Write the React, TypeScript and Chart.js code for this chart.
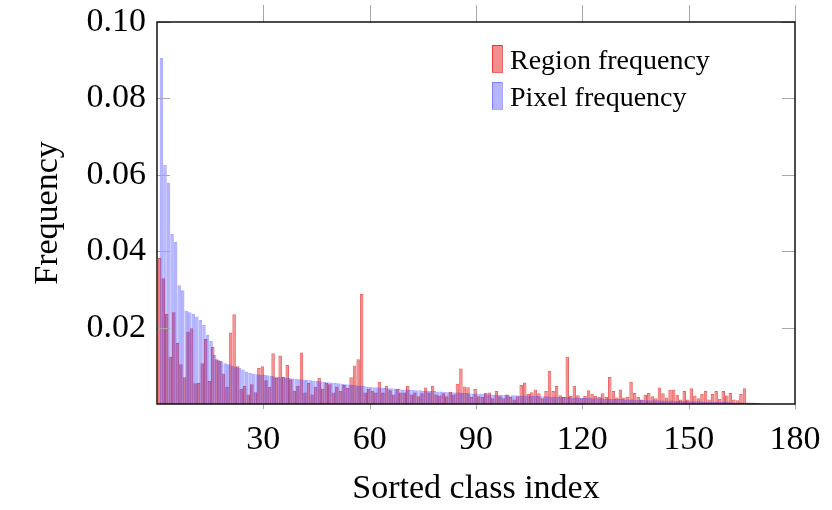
import React, { useEffect, useRef } from "react";
import { Chart, registerables } from "chart.js";

Chart.register(...registerables);

const seriesNames = ["Region frequency", "Pixel frequency"];
const xTitle = "Sorted class index";
const yTitle = "Frequency";
const xTickValues = [30, 60, 90, 120, 150, 180];
const yTickValues = [0.02, 0.04, 0.06, 0.08, 0.1];

const regionFrequency = [
  0.0382, 0.0329, 0.0236, 0.0124, 0.0240, 0.0160, 0.0104, 0.0070, 0.0189, 0.0198,
  0.0054, 0.0055, 0.0107, 0.0170, 0.0060, 0.0149, 0.0117, 0.0113, 0.0080, 0.0045,
  0.0187, 0.0235, 0.0099, 0.0040, 0.0048, 0.0025, 0.0052, 0.0031, 0.0094, 0.0099,
  0.0062, 0.0045, 0.0133, 0.0068, 0.0127, 0.0071, 0.0102, 0.0065, 0.0035, 0.0048,
  0.0135, 0.0030, 0.0055, 0.0025, 0.0045, 0.0069, 0.0040, 0.0055, 0.0052, 0.0030,
  0.0045, 0.0035, 0.0050, 0.0042, 0.0070, 0.0101, 0.0117, 0.0288, 0.0030, 0.0040,
  0.0035, 0.0030, 0.0058, 0.0030, 0.0048, 0.0036, 0.0025, 0.0040, 0.0030, 0.0030,
  0.0048, 0.0025, 0.0030, 0.0020, 0.0028, 0.0043, 0.0030, 0.0048, 0.0025, 0.0022,
  0.0028, 0.0020, 0.0032, 0.0025, 0.0053, 0.0093, 0.0046, 0.0044, 0.0018, 0.0039,
  0.0020, 0.0018, 0.0029, 0.0030, 0.0015, 0.0034, 0.0020, 0.0015, 0.0025, 0.0018,
  0.0012, 0.0020, 0.0050, 0.0056, 0.0026, 0.0031, 0.0038, 0.0028, 0.0015, 0.0034,
  0.0087, 0.0034, 0.0047, 0.0023, 0.0018, 0.0124, 0.0021, 0.0048, 0.0023, 0.0015,
  0.0021, 0.0036, 0.0027, 0.0021, 0.0019, 0.0028, 0.0018, 0.0071, 0.0034, 0.0017,
  0.0038, 0.0017, 0.0019, 0.0058, 0.0029, 0.0018, 0.0012, 0.0024, 0.0029, 0.0020,
  0.0015, 0.0043, 0.0028, 0.0017, 0.0037, 0.0037, 0.0024, 0.0012, 0.0034, 0.0012,
  0.0041, 0.0022, 0.0015, 0.0027, 0.0034, 0.0012, 0.0026, 0.0034, 0.0014, 0.0034,
  0.0022, 0.0029, 0.0012, 0.0010, 0.0026, 0.0041, 0.0004, 0.0003, 0.0003, 0.0002,
  0, 0,
];

const pixelFrequency = [
  0.0906, 0.0626, 0.0580, 0.0445, 0.0425, 0.0311, 0.0298, 0.0244, 0.0240, 0.0236,
  0.0229, 0.0220, 0.0207, 0.0182, 0.0165, 0.0128, 0.0116, 0.0112, 0.0107, 0.0104,
  0.0100, 0.0097, 0.0095, 0.0090, 0.0085, 0.0082, 0.0080, 0.0078, 0.0077, 0.0076,
  0.0075, 0.0074, 0.0072, 0.0071, 0.0070, 0.0069, 0.0068, 0.0067, 0.0066, 0.0065,
  0.0064, 0.0063, 0.0062, 0.0061, 0.0060, 0.0059, 0.0058, 0.0057, 0.0056, 0.0055,
  0.0054, 0.0053, 0.0052, 0.0051, 0.0050, 0.0049, 0.0048, 0.0047, 0.0046, 0.0045,
  0.0044, 0.0044, 0.0043, 0.0042, 0.0041, 0.0041, 0.0040, 0.0039, 0.0038, 0.0038,
  0.0037, 0.0037, 0.0036, 0.0036, 0.0035, 0.0035, 0.0034, 0.0034, 0.0033, 0.0033,
  0.0032, 0.0031, 0.0031, 0.0030, 0.0030, 0.0029, 0.0029, 0.0028, 0.0027, 0.0027,
  0.0026, 0.0026, 0.0025, 0.0025, 0.0025, 0.0024, 0.0024, 0.0024, 0.0023, 0.0023,
  0.0023, 0.0022, 0.0022, 0.0022, 0.0021, 0.0021, 0.0021, 0.0020, 0.0020, 0.0020,
  0.0019, 0.0019, 0.0019, 0.0018, 0.0018, 0.0018, 0.0017, 0.0017, 0.0017, 0.0016,
  0.0016, 0.0016, 0.0015, 0.0015, 0.0015, 0.0014, 0.0014, 0.0014, 0.0013, 0.0013,
  0.0013, 0.0012, 0.0012, 0.0012, 0.0011, 0.0011, 0.0011, 0.0010, 0.0010, 0.0010,
  0.0010, 0.0009, 0.0009, 0.0009, 0.0009, 0.0008, 0.0008, 0.0008, 0.0008, 0.0007,
  0.0007, 0.0007, 0.0007, 0.0006, 0.0006, 0.0006, 0.0006, 0.0005, 0.0005, 0.0005,
  0.0005, 0.0004, 0.0004, 0.0004, 0.0004, 0.0003, 0.0003, 0.0003, 0.0002, 0.0002,
  0.0001, 0.0001,
];

const classIndex = pixelFrequency.map((_, i) => i + 1);

const FONT = "'Liberation Serif', 'Times New Roman', serif";
const RED_FILL = "rgba(232,30,30,0.5)";
const RED_LINE = "rgba(220,0,0,0.6)";
const BLUE_FILL = "rgba(40,40,255,0.34)";
const BLUE_LINE = "rgba(40,40,255,0.4)";

// draw datasets in index order so that the pixel series lies on top of the region series
const drawOrderPlugin = {
  id: "drawOrder",
  beforeDatasetsDraw(chart: any) {
    const { ctx, chartArea: a } = chart;
    ctx.save();
    ctx.beginPath();
    ctx.rect(a.left, a.top, a.right - a.left, a.bottom - a.top);
    ctx.clip();
    chart.data.datasets.forEach((_: any, i: number) => {
      const meta = chart.getDatasetMeta(i);
      if (meta && meta.controller && !meta.hidden) meta.controller.draw();
    });
    ctx.restore();
    return false;
  },
};

const decorPlugin = {
  id: "decor",
  afterDraw(chart: any) {
    const { ctx, chartArea: a, scales } = chart;
    const xs = scales.x;
    const ys = scales.y;
    ctx.save();
    ctx.strokeStyle = "#a8a8a8";
    ctx.lineWidth = 1;
    const seg = (x1: number, y1: number, x2: number, y2: number) => {
      ctx.beginPath();
      ctx.moveTo(x1, y1);
      ctx.lineTo(x2, y2);
      ctx.stroke();
    };
    yTickValues.forEach((v) => {
      const y = Math.round(ys.getPixelForValue(v)) + 0.5;
      seg(a.left, y, a.left + 13, y);
      seg(a.right - 13, y, a.right, y);
    });
    xTickValues.forEach((v) => {
      const x = Math.round(xs.getPixelForValue(v)) + 0.5;
      seg(x, a.bottom, x, a.bottom + 5);
      seg(x, a.top - 17, x, a.top);
    });
    ctx.strokeStyle = "#000";
    ctx.lineWidth = 1.4;
    ctx.strokeRect(a.left, a.top, a.right - a.left, a.bottom - a.top);

    // legend
    const lx = 492;
    const items = [
      { name: seriesNames[0], fill: RED_FILL, line: RED_LINE, y: 45 },
      { name: seriesNames[1], fill: BLUE_FILL, line: BLUE_LINE, y: 82 },
    ];
    ctx.font = `28px ${FONT}`;
    ctx.textBaseline = "alphabetic";
    ctx.textAlign = "left";
    items.forEach((it) => {
      ctx.fillStyle = it.fill;
      ctx.fillRect(lx, it.y, 10, 27);
      ctx.strokeStyle = it.line;
      ctx.lineWidth = 1;
      ctx.strokeRect(lx + 0.5, it.y + 0.5, 10, 27);
      ctx.fillStyle = "#000";
      ctx.fillText(it.name, lx + 18, it.y + 24);
    });
    ctx.restore();
  },
};

export default function App() {
  const ref = useRef<HTMLCanvasElement | null>(null);
  useEffect(() => {
    if (!ref.current) return;
    const chart = new Chart(ref.current, {
      type: "bar",
      data: {
        datasets: [
          {
            label: seriesNames[0],
            data: regionFrequency.map((v, i) => ({ x: classIndex[i], y: v })),
            backgroundColor: RED_FILL,
            borderColor: RED_LINE,
            borderWidth: 1,
          },
          {
            label: seriesNames[1],
            data: pixelFrequency.map((v, i) => ({ x: classIndex[i], y: v })),
            backgroundColor: BLUE_FILL,
            borderColor: BLUE_LINE,
            borderWidth: 1,
          },
        ],
      } as any,
      options: {
        animation: false,
        responsive: false,
        maintainAspectRatio: false,
        layout: { padding: { top: 22, right: 37, left: 0, bottom: 0 } },
        datasets: { bar: { categoryPercentage: 1, barPercentage: 2, grouped: true } } as any,
        plugins: { legend: { display: false }, tooltip: { enabled: false } },
        scales: {
          x: {
            type: "linear",
            min: 0,
            max: 180,
            offset: false,
            afterFit: (s: any) => {
              s.height = 106;
              s.paddingLeft = 0;
              s.paddingRight = 0;
            },
            afterBuildTicks: (s: any) => {
              s.ticks = [0, ...xTickValues].map((v) => ({ value: v }));
            },
            grid: { display: false, drawTicks: false },
            border: { display: false },
            ticks: {
              padding: 16,
              color: "#000",
              font: { family: FONT, size: 34 },
              maxRotation: 0,
              callback: (v: any) => (v === 0 ? "" : String(v)),
            },
            title: {
              display: true,
              text: xTitle,
              color: "#000",
              font: { family: FONT, size: 34 },
              padding: { top: 0, bottom: 1 },
            },
          },
          y: {
            min: 0,
            max: 0.1,
            afterFit: (s: any) => {
              s.width = 157;
              s.paddingTop = 0;
              s.paddingBottom = 0;
            },
            afterBuildTicks: (s: any) => {
              s.ticks = [0, ...yTickValues].map((v) => ({ value: v }));
            },
            grid: { display: false, drawTicks: false },
            border: { display: false },
            ticks: {
              padding: 11,
              color: "#000",
              font: { family: FONT, size: 34 },
              callback: (v: any) => (v === 0 ? "" : Number(v).toFixed(2)),
            },
            title: {
              display: true,
              text: yTitle,
              color: "#000",
              font: { family: FONT, size: 34 },
              padding: { top: 28, bottom: 0 },
            },
          },
        },
      } as any,
      plugins: [drawOrderPlugin, decorPlugin],
    });
    return () => chart.destroy();
  }, []);
  return (
    <div style={{ position: "absolute", left: 0, top: 0, width: 832, height: 510, background: "#fff" }}>
      <canvas ref={ref} width={832} height={510} style={{ width: 832, height: 510 }} />
    </div>
  );
}
